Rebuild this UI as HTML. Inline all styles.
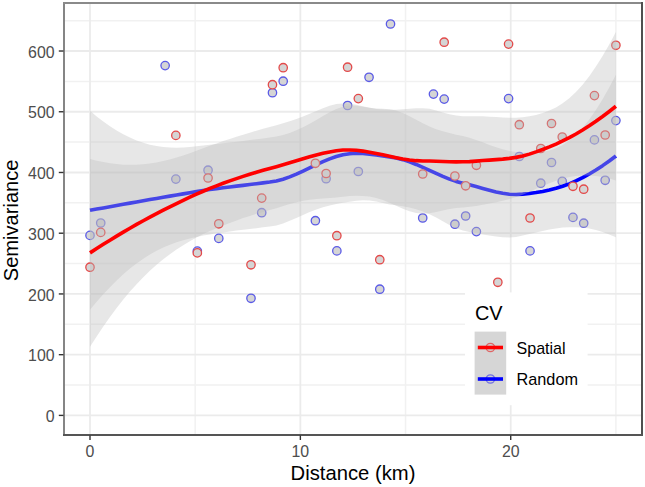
<!DOCTYPE html>
<html><head><meta charset="utf-8"><title>Semivariance vs Distance</title>
<style>html,body{margin:0;padding:0;background:#fff;overflow:hidden;width:645px;height:487px;}svg{display:block;}</style></head>
<body>
<svg width="645" height="487" viewBox="0 0 645 487">
<rect width="645" height="487" fill="#ffffff"/>
<line x1="64.0" x2="642.0" y1="385.03" y2="385.03" stroke="#f1f1f1" stroke-width="1.5"/>
<line x1="64.0" x2="642.0" y1="324.30" y2="324.30" stroke="#f1f1f1" stroke-width="1.5"/>
<line x1="64.0" x2="642.0" y1="263.57" y2="263.57" stroke="#f1f1f1" stroke-width="1.5"/>
<line x1="64.0" x2="642.0" y1="202.84" y2="202.84" stroke="#f1f1f1" stroke-width="1.5"/>
<line x1="64.0" x2="642.0" y1="142.12" y2="142.12" stroke="#f1f1f1" stroke-width="1.5"/>
<line x1="64.0" x2="642.0" y1="81.38" y2="81.38" stroke="#f1f1f1" stroke-width="1.5"/>
<line x1="64.0" x2="642.0" y1="20.66" y2="20.66" stroke="#f1f1f1" stroke-width="1.5"/>
<line y1="3.0" y2="435.0" x1="195.18" x2="195.18" stroke="#f1f1f1" stroke-width="1.5"/>
<line y1="3.0" y2="435.0" x1="405.54" x2="405.54" stroke="#f1f1f1" stroke-width="1.5"/>
<line y1="3.0" y2="435.0" x1="615.90" x2="615.90" stroke="#f1f1f1" stroke-width="1.5"/>
<line x1="64.0" x2="642.0" y1="415.40" y2="415.40" stroke="#ebebeb" stroke-width="1.8"/>
<line x1="64.0" x2="642.0" y1="354.67" y2="354.67" stroke="#ebebeb" stroke-width="1.8"/>
<line x1="64.0" x2="642.0" y1="293.94" y2="293.94" stroke="#ebebeb" stroke-width="1.8"/>
<line x1="64.0" x2="642.0" y1="233.21" y2="233.21" stroke="#ebebeb" stroke-width="1.8"/>
<line x1="64.0" x2="642.0" y1="172.48" y2="172.48" stroke="#ebebeb" stroke-width="1.8"/>
<line x1="64.0" x2="642.0" y1="111.75" y2="111.75" stroke="#ebebeb" stroke-width="1.8"/>
<line x1="64.0" x2="642.0" y1="51.02" y2="51.02" stroke="#ebebeb" stroke-width="1.8"/>
<line y1="3.0" y2="435.0" x1="90.00" x2="90.00" stroke="#ebebeb" stroke-width="1.8"/>
<line y1="3.0" y2="435.0" x1="300.36" x2="300.36" stroke="#ebebeb" stroke-width="1.8"/>
<line y1="3.0" y2="435.0" x1="510.72" x2="510.72" stroke="#ebebeb" stroke-width="1.8"/>
<circle cx="90.00" cy="235.40" r="4.2" fill="#d5d5d5" stroke="#5a5ae6" stroke-width="1.3"/>
<circle cx="100.73" cy="223.00" r="4.2" fill="#d5d5d5" stroke="#5a5ae6" stroke-width="1.3"/>
<circle cx="165.13" cy="65.60" r="4.2" fill="#d5d5d5" stroke="#5a5ae6" stroke-width="1.3"/>
<circle cx="175.86" cy="179.10" r="4.2" fill="#d5d5d5" stroke="#5a5ae6" stroke-width="1.3"/>
<circle cx="197.33" cy="251.10" r="4.2" fill="#d5d5d5" stroke="#5a5ae6" stroke-width="1.3"/>
<circle cx="208.06" cy="170.20" r="4.2" fill="#d5d5d5" stroke="#5a5ae6" stroke-width="1.3"/>
<circle cx="218.79" cy="238.40" r="4.2" fill="#d5d5d5" stroke="#5a5ae6" stroke-width="1.3"/>
<circle cx="250.99" cy="298.30" r="4.2" fill="#d5d5d5" stroke="#5a5ae6" stroke-width="1.3"/>
<circle cx="261.72" cy="212.70" r="4.2" fill="#d5d5d5" stroke="#5a5ae6" stroke-width="1.3"/>
<circle cx="272.46" cy="92.70" r="4.2" fill="#d5d5d5" stroke="#5a5ae6" stroke-width="1.3"/>
<circle cx="283.19" cy="81.20" r="4.2" fill="#d5d5d5" stroke="#5a5ae6" stroke-width="1.3"/>
<circle cx="315.39" cy="220.70" r="4.2" fill="#d5d5d5" stroke="#5a5ae6" stroke-width="1.3"/>
<circle cx="326.12" cy="178.70" r="4.2" fill="#d5d5d5" stroke="#5a5ae6" stroke-width="1.3"/>
<circle cx="336.85" cy="250.90" r="4.2" fill="#d5d5d5" stroke="#5a5ae6" stroke-width="1.3"/>
<circle cx="347.58" cy="105.50" r="4.2" fill="#d5d5d5" stroke="#5a5ae6" stroke-width="1.3"/>
<circle cx="358.32" cy="171.50" r="4.2" fill="#d5d5d5" stroke="#5a5ae6" stroke-width="1.3"/>
<circle cx="369.05" cy="77.30" r="4.2" fill="#d5d5d5" stroke="#5a5ae6" stroke-width="1.3"/>
<circle cx="379.78" cy="289.20" r="4.2" fill="#d5d5d5" stroke="#5a5ae6" stroke-width="1.3"/>
<circle cx="390.51" cy="24.00" r="4.2" fill="#d5d5d5" stroke="#5a5ae6" stroke-width="1.3"/>
<circle cx="422.71" cy="218.00" r="4.2" fill="#d5d5d5" stroke="#5a5ae6" stroke-width="1.3"/>
<circle cx="433.44" cy="94.10" r="4.2" fill="#d5d5d5" stroke="#5a5ae6" stroke-width="1.3"/>
<circle cx="444.18" cy="99.10" r="4.2" fill="#d5d5d5" stroke="#5a5ae6" stroke-width="1.3"/>
<circle cx="454.91" cy="224.20" r="4.2" fill="#d5d5d5" stroke="#5a5ae6" stroke-width="1.3"/>
<circle cx="465.64" cy="216.00" r="4.2" fill="#d5d5d5" stroke="#5a5ae6" stroke-width="1.3"/>
<circle cx="476.38" cy="231.60" r="4.2" fill="#d5d5d5" stroke="#5a5ae6" stroke-width="1.3"/>
<circle cx="497.84" cy="322.42" r="4.2" fill="#d5d5d5" stroke="#5a5ae6" stroke-width="1.3"/>
<circle cx="508.57" cy="98.60" r="4.2" fill="#d5d5d5" stroke="#5a5ae6" stroke-width="1.3"/>
<circle cx="519.31" cy="156.50" r="4.2" fill="#d5d5d5" stroke="#5a5ae6" stroke-width="1.3"/>
<circle cx="530.04" cy="250.90" r="4.2" fill="#d5d5d5" stroke="#5a5ae6" stroke-width="1.3"/>
<circle cx="540.77" cy="183.20" r="4.2" fill="#d5d5d5" stroke="#5a5ae6" stroke-width="1.3"/>
<circle cx="551.50" cy="162.50" r="4.2" fill="#d5d5d5" stroke="#5a5ae6" stroke-width="1.3"/>
<circle cx="562.24" cy="181.40" r="4.2" fill="#d5d5d5" stroke="#5a5ae6" stroke-width="1.3"/>
<circle cx="572.97" cy="217.40" r="4.2" fill="#d5d5d5" stroke="#5a5ae6" stroke-width="1.3"/>
<circle cx="583.70" cy="223.20" r="4.2" fill="#d5d5d5" stroke="#5a5ae6" stroke-width="1.3"/>
<circle cx="594.43" cy="139.90" r="4.2" fill="#d5d5d5" stroke="#5a5ae6" stroke-width="1.3"/>
<circle cx="605.17" cy="180.30" r="4.2" fill="#d5d5d5" stroke="#5a5ae6" stroke-width="1.3"/>
<circle cx="615.90" cy="120.60" r="4.2" fill="#d5d5d5" stroke="#5a5ae6" stroke-width="1.3"/>
<polygon points="90.00,110.83 96.66,116.41 103.31,121.55 109.97,126.25 116.63,130.50 123.28,134.30 129.94,137.62 136.60,140.46 143.26,142.82 149.91,144.70 156.57,146.11 163.23,147.07 169.88,147.61 176.54,147.75 183.20,147.56 189.85,147.08 196.51,146.37 203.17,145.54 209.83,144.73 216.48,143.95 223.14,143.19 229.80,142.44 236.45,141.69 243.11,140.91 249.77,140.11 256.42,139.26 263.08,138.38 269.74,137.47 276.39,136.45 283.05,134.95 289.71,132.92 296.37,130.36 303.02,127.28 309.68,123.75 316.34,119.92 322.99,115.99 329.65,112.27 336.31,109.05 342.96,106.69 349.62,105.53 356.28,105.76 362.94,106.72 369.59,107.75 376.25,108.45 382.91,108.87 389.56,109.34 396.22,110.57 402.88,112.98 409.53,116.17 416.19,119.72 422.85,123.24 429.51,126.44 436.16,129.15 442.82,131.34 449.48,133.12 456.13,134.65 462.79,136.10 469.45,137.72 476.10,139.88 482.76,142.37 489.42,144.91 496.07,147.30 502.73,149.36 509.39,150.99 516.05,152.08 522.70,152.61 529.36,152.81 536.02,152.62 542.67,151.90 549.33,150.48 555.99,148.22 562.64,144.94 569.30,140.51 575.96,134.82 582.62,127.81 589.27,119.51 595.93,109.96 602.59,99.25 609.24,87.47 615.90,74.71 615.90,237.37 609.24,234.48 602.59,232.02 595.93,230.03 589.27,228.54 582.62,227.58 575.96,227.13 569.30,227.16 562.64,227.62 555.99,228.46 549.33,229.61 542.67,230.99 536.02,232.50 529.36,234.06 522.70,235.59 516.05,236.94 509.39,237.48 502.73,237.29 496.07,236.59 489.42,235.59 482.76,234.42 476.10,233.19 469.45,231.94 462.79,230.58 456.13,228.20 449.48,224.97 442.82,221.30 436.16,217.61 429.51,214.24 422.85,211.40 416.19,209.18 409.53,207.54 402.88,206.31 396.22,205.34 389.56,204.45 382.91,203.09 376.25,201.55 369.59,200.50 362.94,200.28 356.28,200.83 349.62,201.78 342.96,202.79 336.31,204.01 329.65,205.51 322.99,207.34 316.34,209.53 309.68,212.09 303.02,214.93 296.37,217.93 289.71,220.85 283.05,223.44 276.39,225.39 269.74,226.51 263.08,227.37 256.42,228.17 249.77,228.96 243.11,229.76 236.45,230.59 229.80,231.45 223.14,232.38 216.48,233.37 209.83,234.43 203.17,235.60 196.51,236.91 189.85,238.41 183.20,240.16 176.54,242.22 169.88,244.64 163.23,247.47 156.57,250.73 149.91,254.47 143.26,258.69 136.60,263.40 129.94,268.61 123.28,274.31 116.63,280.49 109.97,287.14 103.31,294.24 96.66,301.80 90.00,309.79" fill="#bfbfbf" fill-opacity="0.37"/>
<polyline points="90.00,210.31 96.66,209.10 103.31,207.90 109.97,206.69 116.63,205.50 123.28,204.30 129.94,203.11 136.60,201.93 143.26,200.75 149.91,199.59 156.57,198.42 163.23,197.27 169.88,196.12 176.54,194.99 183.20,193.86 189.85,192.74 196.51,191.64 203.17,190.57 209.83,189.58 216.48,188.66 223.14,187.78 229.80,186.95 236.45,186.14 243.11,185.34 249.77,184.54 256.42,183.72 263.08,182.87 269.74,181.99 276.39,180.92 283.05,179.19 289.71,176.89 296.37,174.14 303.02,171.11 309.68,167.92 316.34,164.73 322.99,161.67 329.65,158.89 336.31,156.53 342.96,154.74 349.62,153.66 356.28,153.30 362.94,153.50 369.59,154.13 376.25,155.00 382.91,155.98 389.56,156.89 396.22,157.96 402.88,159.65 409.53,161.85 416.19,164.45 422.85,167.32 429.51,170.34 436.16,173.38 442.82,176.32 449.48,179.05 456.13,181.43 462.79,183.34 469.45,184.83 476.10,186.54 482.76,188.40 489.42,190.25 496.07,191.95 502.73,193.32 509.39,194.23 516.05,194.51 522.70,194.10 529.36,193.43 536.02,192.56 542.67,191.44 549.33,190.05 555.99,188.34 562.64,186.28 569.30,183.84 575.96,180.97 582.62,177.69 589.27,174.03 595.93,170.00 602.59,165.64 609.24,160.98 615.90,156.04" fill="none" stroke="#0000ff" stroke-width="3.6" stroke-linejoin="round" stroke-linecap="butt"/>
<circle cx="90.00" cy="267.20" r="4.2" fill="#d5d5d5" stroke="#e34a4a" stroke-width="1.3"/>
<circle cx="100.73" cy="232.40" r="4.2" fill="#d5d5d5" stroke="#e34a4a" stroke-width="1.3"/>
<circle cx="175.86" cy="135.40" r="4.2" fill="#d5d5d5" stroke="#e34a4a" stroke-width="1.3"/>
<circle cx="197.33" cy="252.90" r="4.2" fill="#d5d5d5" stroke="#e34a4a" stroke-width="1.3"/>
<circle cx="208.06" cy="178.00" r="4.2" fill="#d5d5d5" stroke="#e34a4a" stroke-width="1.3"/>
<circle cx="218.79" cy="223.80" r="4.2" fill="#d5d5d5" stroke="#e34a4a" stroke-width="1.3"/>
<circle cx="250.99" cy="264.80" r="4.2" fill="#d5d5d5" stroke="#e34a4a" stroke-width="1.3"/>
<circle cx="261.72" cy="198.10" r="4.2" fill="#d5d5d5" stroke="#e34a4a" stroke-width="1.3"/>
<circle cx="272.46" cy="84.70" r="4.2" fill="#d5d5d5" stroke="#e34a4a" stroke-width="1.3"/>
<circle cx="283.19" cy="67.70" r="4.2" fill="#d5d5d5" stroke="#e34a4a" stroke-width="1.3"/>
<circle cx="315.39" cy="163.30" r="4.2" fill="#d5d5d5" stroke="#e34a4a" stroke-width="1.3"/>
<circle cx="326.12" cy="173.50" r="4.2" fill="#d5d5d5" stroke="#e34a4a" stroke-width="1.3"/>
<circle cx="336.85" cy="235.70" r="4.2" fill="#d5d5d5" stroke="#e34a4a" stroke-width="1.3"/>
<circle cx="347.58" cy="67.20" r="4.2" fill="#d5d5d5" stroke="#e34a4a" stroke-width="1.3"/>
<circle cx="358.32" cy="98.60" r="4.2" fill="#d5d5d5" stroke="#e34a4a" stroke-width="1.3"/>
<circle cx="379.78" cy="259.70" r="4.2" fill="#d5d5d5" stroke="#e34a4a" stroke-width="1.3"/>
<circle cx="422.71" cy="174.00" r="4.2" fill="#d5d5d5" stroke="#e34a4a" stroke-width="1.3"/>
<circle cx="444.18" cy="42.20" r="4.2" fill="#d5d5d5" stroke="#e34a4a" stroke-width="1.3"/>
<circle cx="454.91" cy="176.00" r="4.2" fill="#d5d5d5" stroke="#e34a4a" stroke-width="1.3"/>
<circle cx="465.64" cy="185.80" r="4.2" fill="#d5d5d5" stroke="#e34a4a" stroke-width="1.3"/>
<circle cx="476.38" cy="165.30" r="4.2" fill="#d5d5d5" stroke="#e34a4a" stroke-width="1.3"/>
<circle cx="497.84" cy="282.30" r="4.2" fill="#d5d5d5" stroke="#e34a4a" stroke-width="1.3"/>
<circle cx="508.57" cy="44.10" r="4.2" fill="#d5d5d5" stroke="#e34a4a" stroke-width="1.3"/>
<circle cx="519.31" cy="124.70" r="4.2" fill="#d5d5d5" stroke="#e34a4a" stroke-width="1.3"/>
<circle cx="530.04" cy="218.00" r="4.2" fill="#d5d5d5" stroke="#e34a4a" stroke-width="1.3"/>
<circle cx="540.77" cy="148.50" r="4.2" fill="#d5d5d5" stroke="#e34a4a" stroke-width="1.3"/>
<circle cx="551.50" cy="123.50" r="4.2" fill="#d5d5d5" stroke="#e34a4a" stroke-width="1.3"/>
<circle cx="562.24" cy="137.00" r="4.2" fill="#d5d5d5" stroke="#e34a4a" stroke-width="1.3"/>
<circle cx="572.97" cy="186.30" r="4.2" fill="#d5d5d5" stroke="#e34a4a" stroke-width="1.3"/>
<circle cx="583.70" cy="189.20" r="4.2" fill="#d5d5d5" stroke="#e34a4a" stroke-width="1.3"/>
<circle cx="594.43" cy="95.60" r="4.2" fill="#d5d5d5" stroke="#e34a4a" stroke-width="1.3"/>
<circle cx="605.17" cy="135.00" r="4.2" fill="#d5d5d5" stroke="#e34a4a" stroke-width="1.3"/>
<circle cx="615.90" cy="45.30" r="4.2" fill="#d5d5d5" stroke="#e34a4a" stroke-width="1.3"/>
<polygon points="90.00,158.91 96.66,160.66 103.31,162.12 109.97,163.27 116.63,164.12 123.28,164.65 129.94,164.85 136.60,164.73 143.26,164.27 149.91,163.50 156.57,162.41 163.23,161.03 169.88,159.38 176.54,157.50 183.20,155.41 189.85,153.17 196.51,150.81 203.17,148.37 209.83,145.87 216.48,143.44 223.14,141.11 229.80,138.89 236.45,136.75 243.11,134.68 249.77,132.67 256.42,130.72 263.08,128.81 269.74,126.96 276.39,125.16 283.05,123.33 289.71,121.35 296.37,119.12 303.02,116.59 309.68,113.81 316.34,110.94 322.99,108.18 329.65,105.81 336.31,104.11 342.96,103.43 349.62,103.79 356.28,104.87 362.94,106.29 369.59,107.72 376.25,108.88 382.91,109.61 389.56,109.86 396.22,109.69 402.88,109.25 409.53,108.73 416.19,108.30 422.85,108.14 429.51,108.85 436.16,110.51 442.82,112.53 449.48,114.35 456.13,115.62 462.79,116.22 469.45,116.32 476.10,116.22 482.76,116.30 489.42,116.64 496.07,117.08 502.73,117.48 509.39,117.71 516.05,117.66 522.70,117.23 529.36,116.33 536.02,114.93 542.67,113.06 549.33,110.60 555.99,107.39 562.64,103.30 569.30,98.20 575.96,92.01 582.62,84.67 589.27,76.19 595.93,66.62 602.59,56.02 609.24,44.47 615.90,32.04 615.90,180.53 609.24,178.56 602.59,177.02 595.93,175.95 589.27,175.40 582.62,175.40 575.96,175.95 569.30,177.03 562.64,178.63 555.99,180.69 549.33,183.14 542.67,185.90 536.02,188.87 529.36,191.95 522.70,194.76 516.05,197.11 509.39,199.08 502.73,200.77 496.07,202.26 489.42,203.60 482.76,204.85 476.10,206.03 469.45,206.86 462.79,207.39 456.13,208.04 449.48,209.07 442.82,210.49 436.16,212.04 429.51,213.29 422.85,213.76 416.19,213.03 409.53,211.21 402.88,208.65 396.22,205.71 389.56,202.75 382.91,200.10 376.25,198.00 369.59,196.60 362.94,195.89 356.28,195.78 349.62,196.12 342.96,196.72 336.31,197.42 329.65,197.99 322.99,198.43 316.34,198.94 309.68,199.67 303.02,200.76 296.37,202.24 289.71,204.07 283.05,206.11 276.39,208.15 269.74,210.02 263.08,211.89 256.42,213.85 249.77,215.92 243.11,218.11 236.45,220.44 229.80,222.89 223.14,225.47 216.48,228.19 209.83,231.05 203.17,234.12 196.51,237.52 189.85,241.23 183.20,245.24 176.54,249.54 169.88,254.17 163.23,259.22 156.57,264.72 149.91,270.69 143.26,277.16 136.60,284.13 129.94,291.60 123.28,299.58 116.63,308.06 109.97,317.04 103.31,326.51 96.66,336.45 90.00,346.86" fill="#bfbfbf" fill-opacity="0.37"/>
<polyline points="90.00,252.88 96.66,248.55 103.31,244.31 109.97,240.16 116.63,236.09 123.28,232.11 129.94,228.22 136.60,224.43 143.26,220.72 149.91,217.09 156.57,213.56 163.23,210.13 169.88,206.78 176.54,203.52 183.20,200.33 189.85,197.20 196.51,194.17 203.17,191.24 209.83,188.46 216.48,185.82 223.14,183.29 229.80,180.89 236.45,178.59 243.11,176.40 249.77,174.30 256.42,172.28 263.08,170.35 269.74,168.49 276.39,166.66 283.05,164.72 289.71,162.71 296.37,160.68 303.02,158.67 309.68,156.74 316.34,154.94 322.99,153.31 329.65,151.90 336.31,150.76 342.96,150.07 349.62,149.96 356.28,150.32 362.94,151.09 369.59,152.16 376.25,153.44 382.91,154.85 389.56,156.30 396.22,157.70 402.88,158.95 409.53,159.97 416.19,160.67 422.85,160.95 429.51,161.07 436.16,161.28 442.82,161.51 449.48,161.71 456.13,161.83 462.79,161.81 469.45,161.59 476.10,161.12 482.76,160.58 489.42,160.12 496.07,159.67 502.73,159.13 509.39,158.40 516.05,157.38 522.70,156.00 529.36,154.14 536.02,151.90 542.67,149.48 549.33,146.87 555.99,144.04 562.64,140.96 569.30,137.62 575.96,133.98 582.62,130.03 589.27,125.80 595.93,121.29 602.59,116.52 609.24,111.51 615.90,106.29" fill="none" stroke="#ff0000" stroke-width="3.6" stroke-linejoin="round" stroke-linecap="butt"/>
<rect x="63" y="2" width="2" height="434" fill="#858585"/>
<rect x="63" y="2" width="580" height="2" fill="#8a8a8a"/>
<rect x="641" y="2" width="2" height="434" fill="#4f4f4f"/>
<rect x="63" y="434" width="580" height="2" fill="#555555"/>
<line x1="58.8" x2="63.5" y1="415.40" y2="415.40" stroke="#333333" stroke-width="1.4"/>
<text x="54.6" y="422.00" text-anchor="end" font-family='"Liberation Sans", sans-serif' font-size="15.9" fill="#4d4d4d">0</text>
<line x1="58.8" x2="63.5" y1="354.67" y2="354.67" stroke="#333333" stroke-width="1.4"/>
<text x="54.6" y="361.27" text-anchor="end" font-family='"Liberation Sans", sans-serif' font-size="15.9" fill="#4d4d4d">100</text>
<line x1="58.8" x2="63.5" y1="293.94" y2="293.94" stroke="#333333" stroke-width="1.4"/>
<text x="54.6" y="300.54" text-anchor="end" font-family='"Liberation Sans", sans-serif' font-size="15.9" fill="#4d4d4d">200</text>
<line x1="58.8" x2="63.5" y1="233.21" y2="233.21" stroke="#333333" stroke-width="1.4"/>
<text x="54.6" y="239.81" text-anchor="end" font-family='"Liberation Sans", sans-serif' font-size="15.9" fill="#4d4d4d">300</text>
<line x1="58.8" x2="63.5" y1="172.48" y2="172.48" stroke="#333333" stroke-width="1.4"/>
<text x="54.6" y="179.08" text-anchor="end" font-family='"Liberation Sans", sans-serif' font-size="15.9" fill="#4d4d4d">400</text>
<line x1="58.8" x2="63.5" y1="111.75" y2="111.75" stroke="#333333" stroke-width="1.4"/>
<text x="54.6" y="118.35" text-anchor="end" font-family='"Liberation Sans", sans-serif' font-size="15.9" fill="#4d4d4d">500</text>
<line x1="58.8" x2="63.5" y1="51.02" y2="51.02" stroke="#333333" stroke-width="1.4"/>
<text x="54.6" y="57.62" text-anchor="end" font-family='"Liberation Sans", sans-serif' font-size="15.9" fill="#4d4d4d">600</text>
<line y1="435.5" y2="440" x1="90.00" x2="90.00" stroke="#333333" stroke-width="1.4"/>
<text x="90.00" y="456.8" text-anchor="middle" font-family='"Liberation Sans", sans-serif' font-size="15.9" fill="#4d4d4d">0</text>
<line y1="435.5" y2="440" x1="300.36" x2="300.36" stroke="#333333" stroke-width="1.4"/>
<text x="300.36" y="456.8" text-anchor="middle" font-family='"Liberation Sans", sans-serif' font-size="15.9" fill="#4d4d4d">10</text>
<line y1="435.5" y2="440" x1="510.72" x2="510.72" stroke="#333333" stroke-width="1.4"/>
<text x="510.72" y="456.8" text-anchor="middle" font-family='"Liberation Sans", sans-serif' font-size="15.9" fill="#4d4d4d">20</text>
<text x="353.0" y="479.6" text-anchor="middle" font-family='"Liberation Sans", sans-serif' font-size="19.9" fill="#000" textLength="124.9" lengthAdjust="spacingAndGlyphs">Distance (km)</text>
<text transform="translate(18.3,220.4) rotate(-90)" x="0" y="0" text-anchor="middle" font-family='"Liberation Sans", sans-serif' font-size="19.9" fill="#000" textLength="121.6" lengthAdjust="spacingAndGlyphs">Semivariance</text>
<rect x="465" y="292.4" width="122.6" height="112.8" fill="#ffffff"/>
<text x="475" y="319.5" font-family='"Liberation Sans", sans-serif' font-size="19.9" fill="#000">CV</text>
<rect x="474.6" y="331.6" width="31.6" height="63" fill="#d6d6d6"/>
<circle cx="490.4" cy="347.50" r="4.2" fill="#d0d0d0" stroke="#e34a4a" stroke-width="1.3" opacity="0.8"/>
<line x1="477.8" x2="503" y1="347.50" y2="347.50" stroke="#ff0000" stroke-width="3.6"/>
<text x="516.5" y="353.70" font-family='"Liberation Sans", sans-serif' font-size="15.9" fill="#000" textLength="49.1" lengthAdjust="spacingAndGlyphs">Spatial</text>
<circle cx="490.4" cy="379.00" r="4.2" fill="#d0d0d0" stroke="#5a5ae6" stroke-width="1.3" opacity="0.8"/>
<line x1="477.8" x2="503" y1="379.00" y2="379.00" stroke="#0000ff" stroke-width="3.6"/>
<text x="516.5" y="385.20" font-family='"Liberation Sans", sans-serif' font-size="15.9" fill="#000" textLength="61.5" lengthAdjust="spacingAndGlyphs">Random</text>
</svg>
</body></html>
